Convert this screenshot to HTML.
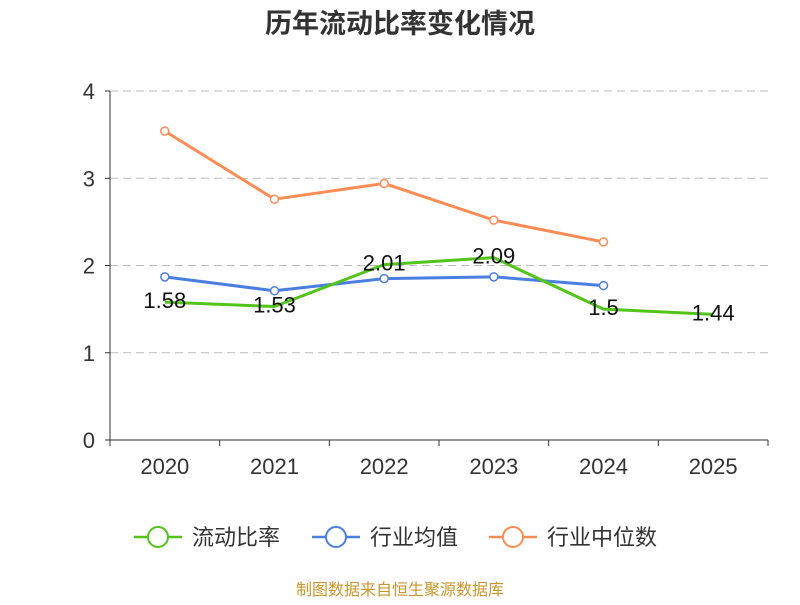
<!DOCTYPE html>
<html><head><meta charset="utf-8"><style>
body{margin:0;background:#fff;width:800px;height:600px;overflow:hidden}
svg text{font-family:"Liberation Sans","Noto Sans CJK SC",sans-serif}
</style></head><body>
<svg id="chart" width="800" height="600" xmlns="http://www.w3.org/2000/svg">
<text x="400" y="33" text-anchor="middle" font-size="27" font-weight="bold" fill="#333">历年流动比率变化情况</text>
<g id="grid"></g><g id="axes"></g><g id="series"></g><g id="labels"></g>
<g>
<g><line x1="134" y1="537" x2="182" y2="537" stroke="#52c41a" stroke-width="2.5"/><circle cx="158" cy="537" r="10" fill="#fff" stroke="#52c41a" stroke-width="2"/><text x="192" y="545" font-size="22" fill="#333">流动比率</text></g>
<g><line x1="312" y1="537" x2="360" y2="537" stroke="#4a7ee0" stroke-width="2.5"/><circle cx="336" cy="537" r="10" fill="#fff" stroke="#4a7ee0" stroke-width="2"/><text x="370" y="545" font-size="22" fill="#333">行业均值</text></g>
<g><line x1="489" y1="537" x2="537" y2="537" stroke="#ff8c55" stroke-width="2.5"/><circle cx="513" cy="537" r="10" fill="#fff" stroke="#ff8c55" stroke-width="2"/><text x="547" y="545" font-size="22" fill="#333">行业中位数</text></g>
</g>
<text x="400" y="595" text-anchor="middle" font-size="16" fill="#c8962a">制图数据来自恒生聚源数据库</text>
</svg>
<script>
const categories=["2020","2021","2022","2023","2024","2025"];
const currentRatio=[1.58,1.53,2.01,2.09,1.5,1.44];
const industryAvg=[1.87,1.71,1.85,1.87,1.77];
const industryMedian=[3.54,2.76,2.94,2.52,2.27];
const yTicks=[0,1,2,3,4];
const NS="http://www.w3.org/2000/svg";
const x0=110,x1=768,yb=440,yt=91,ymax=4;
const bw=(x1-x0)/categories.length;
const X=i=>x0+bw*(i+0.5);
const Y=v=>yb-(v/ymax)*(yb-yt);
function mk(p,t,a){const e=document.createElementNS(NS,t);for(const k in a)e.setAttribute(k,a[k]);p.appendChild(e);return e;}
const grid=document.getElementById('grid'),axes=document.getElementById('axes'),ser=document.getElementById('series'),lab=document.getElementById('labels');
yTicks.forEach(t=>{
 if(t>0){const g=mk(grid,'line',{x1:x0,x2:x1,y1:Y(t),y2:Y(t),stroke:'#bbb','stroke-dasharray':'8,5'});
 
 }
 const tx=mk(axes,'text',{x:95,y:Y(t)+8,'text-anchor':'end','font-size':22,fill:'#333'});tx.textContent=t;
 
 
 mk(axes,'line',{x1:x0-5,x2:x0,y1:Y(t),y2:Y(t),stroke:'#333'});
});
const ya=mk(axes,'line',{x1:x0,x2:x0,y1:yt,y2:yb,stroke:'#333'});


const xa=mk(axes,'line',{x1:x0,x2:x1,y1:yb,y2:yb,stroke:'#333'});


categories.forEach((c,i)=>{
 mk(axes,'line',{x1:x0+bw*i,x2:x0+bw*i,y1:yb,y2:yb+6,stroke:'#333'});
 const t=mk(axes,'text',{x:X(i),y:474,'text-anchor':'middle','font-size':22,fill:'#333'});t.textContent=c;
 
 
});
mk(axes,'line',{x1:x1,x2:x1,y1:yb,y2:yb+6,stroke:'#333'});
function line(vals,color,name,markers){
 const pts=vals.map((v,i)=>X(i)+','+Y(v)).join(' ');
 const pl=mk(ser,'polyline',{points:pts,fill:'none',stroke:color,'stroke-width':3,'stroke-linejoin':'round'});
 
 
 if(markers)vals.forEach((v,i)=>{const c=mk(ser,'circle',{cx:X(i),cy:Y(v),r:4,fill:'#fff',stroke:color,'stroke-width':1.5});
  
  });
}
line(industryMedian,'#ff8c55','industry-median',true);
line(industryAvg,'#4a7ee0','industry-average',true);
line(currentRatio,'#52c41a','current-ratio',false);
currentRatio.forEach((v,i)=>{
 const t=mk(lab,'text',{x:X(i),y:Y(v)+6,'text-anchor':'middle','font-size':22,fill:'#111'});t.textContent=v;
 
 
});
</script>
</body></html>
